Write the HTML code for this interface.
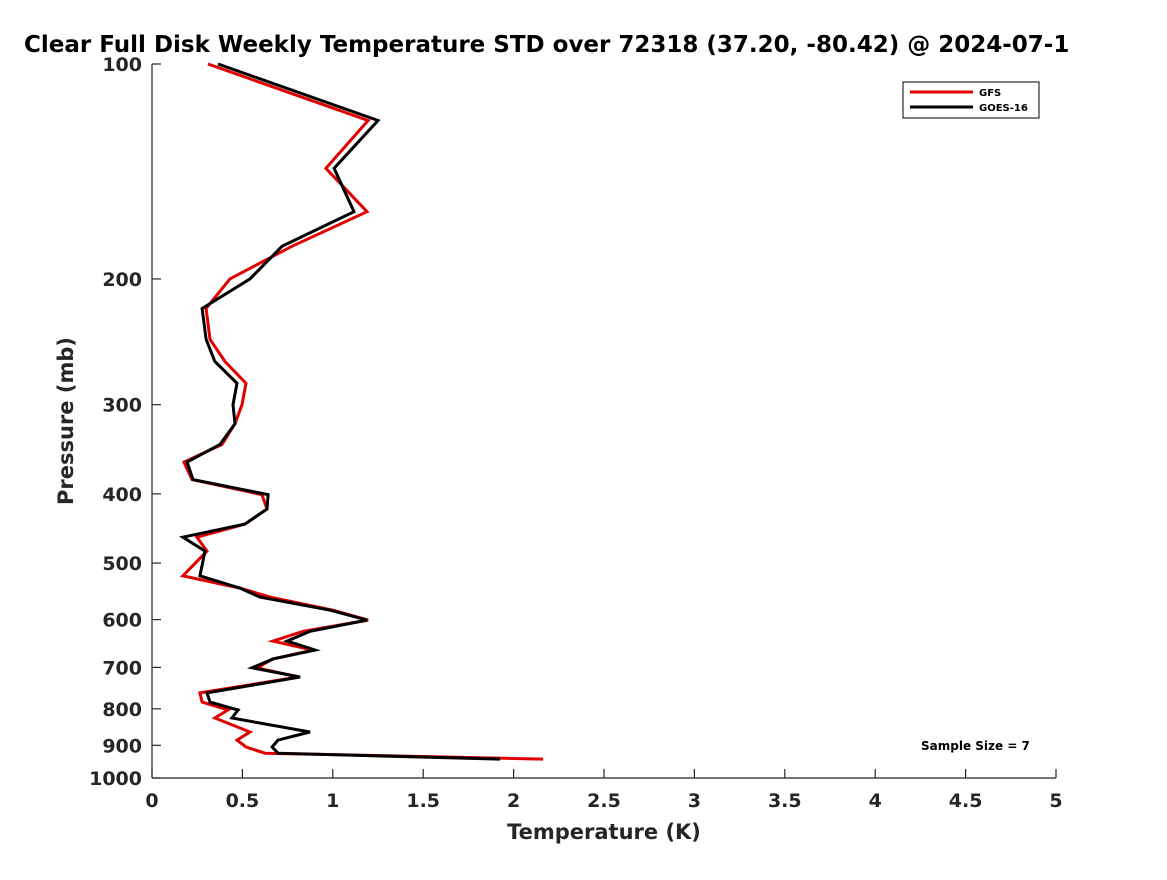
<!DOCTYPE html>
<html><head><meta charset="utf-8"><style>
body{margin:0;background:#fff;width:1167px;height:875px;overflow:hidden}
svg text{font-family:"DejaVu Sans","Liberation Sans",sans-serif;font-weight:bold;fill:#262626}
</style></head><body>
<svg id="chart" width="1167" height="875">
<text x="24" y="52" font-size="23" style="fill:#000">Clear Full Disk Weekly Temperature STD over 72318 (37.20, -80.42) @ 2024-07-1</text>
<g id="axes"></g>
<g id="series"></g>
<text x="604" y="839" font-size="21" text-anchor="middle">Temperature (K)</text>
<text transform="translate(73,421) rotate(-90)" font-size="21" text-anchor="middle">Pressure (mb)</text>
<g>
<rect x="903" y="82" width="136" height="36" fill="#fff" stroke="#000" stroke-width="1"/>
<line x1="910" y1="92" x2="973" y2="92" stroke="#e00000" stroke-width="3"/>
<text x="979" y="96" font-size="10" style="fill:#000">GFS</text>
<line x1="910" y1="107" x2="973" y2="107" stroke="#000" stroke-width="3"/>
<text x="979" y="111" font-size="10" style="fill:#000">GOES-16</text>
</g>
<text x="921" y="750" font-size="12" style="fill:#000">Sample Size = 7</text>
</svg>
<script>
const pressures=[100,120,140,161,180,200,220,243,261,280,300,319,341,361,382,401,420,441,460,481,521,542,558,582,601,623,643,662,681,701,722,760,783,803,824,862,885,905,923,941];
const gfsValues=[0.31,1.195,0.962,1.189,0.774,0.431,0.299,0.321,0.404,0.52,0.498,0.459,0.387,0.177,0.221,0.608,0.636,0.514,0.249,0.304,0.171,0.487,0.653,1.001,1.195,0.835,0.669,0.89,0.669,0.581,0.808,0.265,0.277,0.42,0.348,0.542,0.47,0.52,0.625,2.163];
const goesValues=[0.365,1.25,1.007,1.117,0.719,0.542,0.277,0.299,0.348,0.47,0.448,0.459,0.376,0.194,0.227,0.642,0.636,0.514,0.171,0.293,0.265,0.487,0.597,0.985,1.189,0.874,0.747,0.902,0.669,0.553,0.819,0.304,0.321,0.476,0.442,0.874,0.697,0.664,0.697,1.925];
const xTicks=[0,0.5,1,1.5,2,2.5,3,3.5,4,4.5,5];
const xTickLabels=["0","0.5","1","1.5","2","2.5","3","3.5","4","4.5","5"];
const yTicks=[100,200,300,400,500,600,700,800,900,1000];
const yTickLabels=["100","200","300","400","500","600","700","800","900","1000"];
const X0=152,X1=1056,Y0=64,Y1=778;
const xs=v=>X0+(v/5)*(X1-X0);
const ys=p=>Y0+Math.log10(p/100)*(Y1-Y0);
const NS="http://www.w3.org/2000/svg";
const axes=document.getElementById('axes'),ser=document.getElementById('series');
function mk(t,a,parent){const e=document.createElementNS(NS,t);for(const k in a)e.setAttribute(k,a[k]);parent.appendChild(e);return e;}
const yAxis=mk('line',{x1:X0,y1:Y0,x2:X0,y2:Y1,stroke:'#262626','stroke-width':1.2},axes);


const xAxis=mk('line',{x1:X0,y1:Y1,x2:X1,y2:Y1,stroke:'#262626','stroke-width':1.2},axes);


xTicks.forEach((v,i)=>{
 mk('line',{x1:xs(v),y1:Y1,x2:xs(v),y2:Y1-9,stroke:'#262626','stroke-width':1.2},axes);
 const t=mk('text',{x:xs(v),y:Y1+29,'font-size':19,'text-anchor':'middle'},axes);
 t.textContent=xTickLabels[i];
 
 
});
yTicks.forEach((p,i)=>{
 mk('line',{x1:X0,y1:ys(p),x2:X0+9,y2:ys(p),stroke:'#262626','stroke-width':1.2},axes);
 const t=mk('text',{x:X0-10,y:ys(p)+7,'font-size':19,'text-anchor':'end'},axes);
 t.textContent=yTickLabels[i];
 
 
});
function line(vals,color,name){
 const d=vals.map((v,i)=>xs(v).toFixed(1)+','+ys(pressures[i]).toFixed(1)).join(' ');
 const pl=mk('polyline',{points:d,fill:'none',stroke:color,'stroke-width':3,'stroke-linejoin':'miter'},ser);
 
 
}
line(gfsValues,'#e00000','gfs-line');
line(goesValues,'#000000','goes16-line');
</script>
</body></html>
